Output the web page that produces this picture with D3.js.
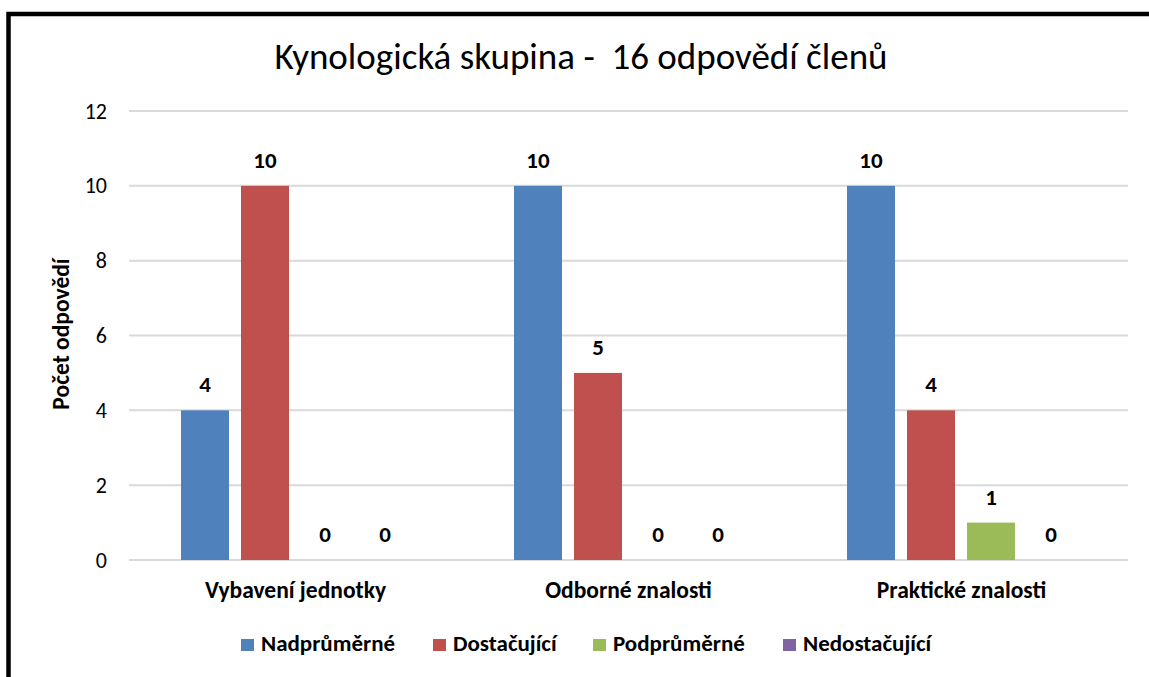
<!DOCTYPE html>
<html>
<head>
<meta charset="utf-8">
<script src="https://cdn.jsdelivr.net/npm/d3@7"></script>
<style>
  body { margin: 0; background: #fff; }
  svg { display: block; font-family: Carlito, Lato, "Open Sans", sans-serif; }
</style>
</head>
<body>
<svg id="chart"></svg>
<script>
// ---------------- data ----------------
const categories = ["Vybavení jednotky", "Odborné znalosti", "Praktické znalosti"];
const seriesNames = ["Nadprůměrné", "Dostačující", "Podprůměrné", "Nedostačující"];
const seriesColors = ["#4f81bd", "#c0504d", "#9bbb59", "#8064a2"];
const nadprumerne = [4, 10, 10];
const dostacujici = [10, 5, 4];
const podprumerne = [0, 0, 1];
const nedostacujici = [0, 0, 0];
const yTicks = [0, 2, 4, 6, 8, 10, 12];
const titleText = "Kynologická skupina -  16 odpovědí členů";
const yTitle = "Počet odpovědí";

const seriesValues = [nadprumerne, dostacujici, podprumerne, nedostacujici];

// ---------------- layout ----------------
const width = 1149, height = 677;
const plot = { left: 129, right: 1128, top: 111, bottom: 560 };

const svg = d3.select("#chart")
  .attr("width", width)
  .attr("height", height);

// outer frame (clipped on right and bottom like the source)
svg.append("rect")
  .attr("x", 8.5).attr("y", 14)
  .attr("width", 1160).attr("height", 700)
  .attr("fill", "none")
  .attr("stroke", "#000")
  .attr("stroke-width", 4.5);

// scales
const x0 = d3.scaleBand()
  .domain(categories)
  .range([plot.left, plot.right])
  .padding(0);

const x1 = d3.scaleBand()
  .domain(seriesNames)
  .range([46, x0.bandwidth() - 47])
  .paddingInner(0.2)
  .paddingOuter(0.1);

const yScale = d3.scaleLinear()
  .domain([0, 12])
  .range([plot.bottom, plot.top]);

// grid lines
svg.append("g")
  .selectAll("line")
  .data(yTicks)
  .join("line")
  .attr("x1", plot.left)
  .attr("x2", plot.right)
  .attr("y1", d => yScale(d))
  .attr("y2", d => yScale(d))
  .attr("stroke", "#d9d9d9")
  .attr("stroke-width", 2);

// y axis labels
const yAxis = svg.append("g")
  .attr("transform", "translate(" + (plot.left - 22) + ",0)")
  .call(d3.axisLeft(yScale).tickValues(yTicks).tickSize(0).tickPadding(0));
yAxis.select(".domain").remove();
yAxis.selectAll("text")
  .attr("font-family", "Carlito, Lato, 'Open Sans', sans-serif")
  .attr("font-size", 22)
  .attr("fill", "#000");

// bars
const groups = svg.append("g")
  .selectAll("g")
  .data(categories)
  .join("g")
  .attr("transform", d => "translate(" + x0(d) + ",0)");

groups.each(function(cat, ci) {
  const rows = seriesNames.map((s, si) => ({ s: s, v: seriesValues[si][ci], c: seriesColors[si] }));
  const g = d3.select(this);
  g.selectAll("rect")
    .data(rows)
    .join("rect")
    .attr("x", d => x1(d.s))
    .attr("width", x1.bandwidth())
    .attr("y", d => yScale(d.v))
    .attr("height", d => yScale(0) - yScale(d.v))
    .attr("fill", d => d.c);
  g.selectAll("text")
    .data(rows)
    .join("text")
    .attr("x", d => x1(d.s) + x1.bandwidth() / 2)
    .attr("y", d => yScale(d.v) - 18)
    .attr("text-anchor", "middle")
    .attr("font-size", 23)
    .attr("font-weight", "bold")
    .text(d => d.v);
});

// category labels
svg.append("g")
  .selectAll("text")
  .data(categories)
  .join("text")
  .attr("x", d => x0(d) + x0.bandwidth() / 2)
  .attr("y", plot.bottom + 38)
  .attr("text-anchor", "middle")
  .attr("font-size", 23.5)
  .attr("font-weight", "bold")
  .text(d => d);

// title
svg.append("text")
  .attr("x", 581)
  .attr("y", 69)
  .attr("text-anchor", "middle")
  .attr("font-size", 37)
  .attr("xml:space", "preserve")
  .style("white-space", "pre")
  .text(titleText);

// y axis title
svg.append("text")
  .attr("transform", "translate(69," + 334 + ") rotate(-90)")
  .attr("text-anchor", "middle")
  .attr("font-size", 23.5)
  .attr("font-weight", "bold")
  .text(yTitle);

// legend
const legendX = [241, 433, 593, 783];
const legend = svg.append("g")
  .selectAll("g")
  .data(seriesNames)
  .join("g")
  .attr("transform", (d, i) => "translate(" + legendX[i] + ",639)");
legend.append("rect")
  .attr("width", 13).attr("height", 12)
  .attr("fill", (d, i) => seriesColors[i]);
legend.append("text")
  .attr("x", 20)
  .attr("y", 12)
  .attr("font-size", 23)
  .attr("font-weight", "bold")
  .text(d => d);
</script>
</body>
</html>
